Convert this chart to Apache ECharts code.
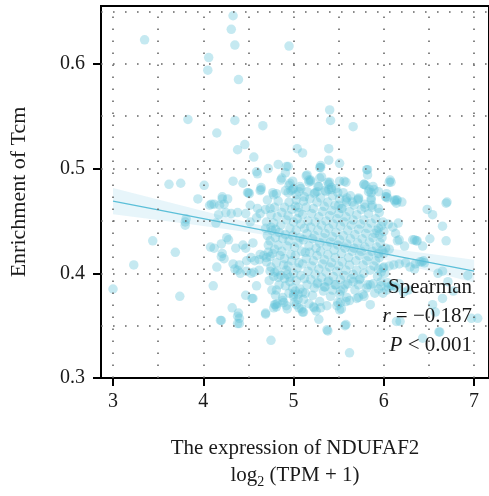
<!DOCTYPE html>
<html><head><meta charset="utf-8">
<script src="https://cdn.jsdelivr.net/npm/echarts@6/dist/echarts.min.js"></script>
<style>html,body{margin:0;padding:0;background:#fff}#c{width:489px;height:496px}</style>
</head><body><div id="c"></div>
<script>
const xTicks = [3, 4, 5, 6, 7];
const yTicks = [0.3, 0.4, 0.5, 0.6];
const gridXs = [3, 3.5, 4, 4.5, 5, 5.5, 6, 6.5, 7];
const gridYs = [0.35, 0.4, 0.45, 0.5, 0.55, 0.6, 0.65];
const fitX = [3, 3.5, 4, 4.5, 5, 5.5, 6, 6.5, 7];
const fitY = [0.469, 0.4606, 0.4523, 0.4439, 0.4355, 0.4271, 0.4188, 0.4104, 0.402];
const bandLow = [0.4565, 0.4508, 0.4452, 0.4392, 0.4324, 0.4235, 0.4131, 0.4022, 0.3911];
const bandHigh = [0.4815, 0.4704, 0.4594, 0.4486, 0.4386, 0.4307, 0.4245, 0.4186, 0.4129];
const statLines = ['Spearman', 'r = \u22120.187', 'P < 0.001'];

const pointsUpper = [
[3.35,0.623],[4.33,0.646],[4.31,0.633],[4.35,0.618],[4.95,0.617],[4.06,0.606],[4.05,0.594],[4.39,0.585],[5.40,0.556],[5.41,0.546],[3.83,0.547],[4.35,0.546],[4.66,0.541],[5.66,0.540],[4.15,0.534],[4.46,0.523],[4.38,0.518],[4.56,0.511],[5.04,0.519],[5.10,0.515],[5.39,0.519],[5.39,0.508],[5.51,0.505],[5.29,0.501],[5.30,0.503],[4.83,0.504],[4.94,0.502],[4.72,0.500],[4.59,0.497],[4.60,0.495],[4.91,0.496],[4.87,0.491],[4.86,0.489],[5.14,0.493],[5.17,0.489],[5.29,0.491],[5.38,0.487],[5.51,0.488],[5.58,0.487],[5.82,0.499],[5.82,0.494],[6.07,0.489],[6.08,0.487],[5.78,0.485],[5.80,0.484],[5.89,0.480],[5.83,0.478],[3.62,0.485],[3.75,0.486],[4.01,0.484],[4.33,0.488],[4.44,0.486],[4.49,0.477],[4.51,0.476],[4.64,0.482],[4.63,0.479],[4.77,0.477],[4.95,0.484],[5.00,0.481],[5.06,0.478],[5.08,0.481],[4.97,0.479],[5.24,0.477],[5.26,0.478],[5.36,0.478],[5.42,0.480],[5.49,0.477],[5.59,0.472],[5.72,0.472],[5.86,0.472],[6.02,0.473],[6.14,0.470],[6.70,0.468]
];
const pointsEdge = [
[3.00,0.385],[3.23,0.408],[3.44,0.431],[3.69,0.420],[3.74,0.378],[3.80,0.449],[3.81,0.452],[3.94,0.471],[4.07,0.465],[4.12,0.466],[4.18,0.465],[4.21,0.473],[4.17,0.456],[4.08,0.425],[4.15,0.406],[4.11,0.388],[4.19,0.355],[4.32,0.367],[4.38,0.359],[4.40,0.352],[4.47,0.379],[4.55,0.376],[4.75,0.336],[4.69,0.361],[4.80,0.370],[4.81,0.368],[4.92,0.369],[5.00,0.378],[5.10,0.363],[5.22,0.368],[5.28,0.356],[5.37,0.346],[5.51,0.365],[5.53,0.366],[5.58,0.351],[5.62,0.324],[5.70,0.376],[5.78,0.378],[5.85,0.370],[5.90,0.381],[5.88,0.390],[6.05,0.387],[6.18,0.354],[6.43,0.338],[6.62,0.344],[7.04,0.357],[6.71,0.392],[6.42,0.411],[6.44,0.412],[6.51,0.433],[6.34,0.432],[6.36,0.431],[6.17,0.432],[6.65,0.445],[6.69,0.431],[6.48,0.461],[6.54,0.456],[6.69,0.467],[6.12,0.469],[6.14,0.467],[6.03,0.473],[6.16,0.448],[6.06,0.423],[6.01,0.400]
];
const pointsLeft = [
[4.64,0.480],[4.50,0.477],[4.78,0.475],[4.21,0.471],[4.27,0.471],[4.09,0.466],[4.23,0.466],[4.52,0.465],[4.60,0.462],[4.69,0.461],[4.71,0.470],[4.81,0.476],[4.25,0.458],[4.31,0.457],[4.38,0.458],[4.47,0.457],[4.63,0.457],[4.59,0.453],[4.74,0.462],[4.14,0.448],[3.80,0.446],[4.52,0.449],[4.69,0.443],[4.75,0.444],[4.80,0.442],
[4.26,0.434],[4.28,0.432],[4.20,0.428],[4.12,0.424],[4.36,0.424],[4.44,0.427],[4.47,0.424],[4.55,0.429],[4.63,0.418],[4.72,0.420],
[4.20,0.416],[4.23,0.414],[4.21,0.419],[4.35,0.404],[4.38,0.403],[4.41,0.400],[4.33,0.409],[4.40,0.408],[4.48,0.412],[4.53,0.415],[4.57,0.412],[4.62,0.413],[4.67,0.417],[4.70,0.415],[4.74,0.416],[4.48,0.402],[4.53,0.400],[4.56,0.401],[4.62,0.403],[4.74,0.402],[4.79,0.401],[4.83,0.396],[4.59,0.388],[4.54,0.376],[4.81,0.384],[4.80,0.379],[4.79,0.370],[4.82,0.371],[4.78,0.367],[4.39,0.362],[4.40,0.357],[4.38,0.352],[4.20,0.355],[4.69,0.362]
];
const pointsLower = [
[4.90,0.395],[4.93,0.399],[4.96,0.392],[5.02,0.383],[5.00,0.380],[5.05,0.375],[5.10,0.382],[5.13,0.381],[4.93,0.366],[5.03,0.370],[5.06,0.367],[5.11,0.363],[5.23,0.367],[5.30,0.367],[5.38,0.345],[5.57,0.350],[5.48,0.369],[5.52,0.372],[5.58,0.373],[5.62,0.374],[5.72,0.377],[5.77,0.380],[5.34,0.387],[5.26,0.390],[5.38,0.392],[5.46,0.389],[5.52,0.383],[5.57,0.389],[5.66,0.392],[5.73,0.394],[5.81,0.386],[5.85,0.389],[4.88,0.377],[4.89,0.372]
];
const pointsTop = [
[4.92,0.502],[5.30,0.501],[5.81,0.499],[5.15,0.494],[5.19,0.489],[5.17,0.487],[4.96,0.486],[4.99,0.480],[4.94,0.477],[5.28,0.483],[5.40,0.487],[5.42,0.482],[5.39,0.480],[5.56,0.488],[5.78,0.485],[5.84,0.480],[5.86,0.477],[5.88,0.483],[5.58,0.470],[5.65,0.468],[5.72,0.471],[5.79,0.463],[5.87,0.465],[5.86,0.470],[5.03,0.470],[5.12,0.473],[5.05,0.463],[5.50,0.465],[5.53,0.462]
];
const pointsRight = [
[6.06,0.487],[6.03,0.476],[6.04,0.472],[6.12,0.470],[6.15,0.470],[6.20,0.468],[6.43,0.426],[6.32,0.432],[6.37,0.431],[6.23,0.426],[6.15,0.431],[5.97,0.445],[6.05,0.447],[6.10,0.444],[6.00,0.440],[5.95,0.437],[5.92,0.441],[6.13,0.438],[6.02,0.424],[5.98,0.422],[5.94,0.419],[5.94,0.462],[5.94,0.478],
[6.40,0.411],[6.45,0.410],[6.35,0.409],[6.34,0.404],[6.60,0.400],[6.65,0.402],[6.93,0.398],[6.77,0.383],[6.65,0.376],[6.54,0.370],[6.57,0.363],[6.27,0.384],[6.22,0.382],[6.14,0.386],[6.03,0.384],[5.99,0.381],[6.10,0.388],[6.17,0.390],[5.97,0.388],[5.94,0.385],[6.14,0.354],[6.61,0.344],[6.97,0.357],[5.94,0.404],[6.00,0.406],[6.06,0.407],[6.11,0.408],[6.17,0.409],[6.24,0.410],[6.29,0.406],[5.97,0.392],[6.04,0.391],[6.08,0.388]
];
const pointsCore = [
[4.70,0.449],[4.71,0.436],[4.72,0.427],[4.70,0.411],[4.73,0.393],
[4.75,0.456],[4.76,0.441],[4.74,0.431],[4.77,0.419],[4.75,0.406],[4.76,0.384],
[4.79,0.463],[4.78,0.448],[4.80,0.434],[4.79,0.423],[4.81,0.410],[4.78,0.397],
[4.83,0.469],[4.82,0.454],[4.84,0.439],[4.83,0.427],[4.85,0.417],[4.82,0.402],[4.84,0.389],
[4.87,0.458],[4.86,0.446],[4.88,0.433],[4.87,0.421],[4.89,0.408],[4.86,0.398],[4.88,0.374],
[4.91,0.479],[4.90,0.463],[4.92,0.451],[4.91,0.437],[4.93,0.426],[4.90,0.414],[4.92,0.403],[4.91,0.388],
[4.95,0.468],[4.94,0.455],[4.96,0.443],[4.95,0.431],[4.97,0.418],[4.94,0.407],[4.96,0.396],[4.95,0.381],
[4.99,0.488],[4.98,0.461],[5.00,0.449],[4.99,0.436],[5.01,0.425],[4.98,0.412],[5.00,0.400],[4.99,0.386],[5.01,0.372],
[5.03,0.475],[5.02,0.464],[5.04,0.452],[5.03,0.441],[5.05,0.429],[5.02,0.417],[5.04,0.405],[5.03,0.393],[5.05,0.380],
[5.07,0.483],[5.06,0.458],[5.08,0.447],[5.07,0.434],[5.09,0.421],[5.06,0.410],[5.08,0.398],[5.07,0.385],[5.09,0.366],
[5.11,0.469],[5.10,0.456],[5.12,0.443],[5.11,0.432],[5.13,0.420],[5.10,0.409],[5.12,0.395],[5.11,0.375],
[5.15,0.478],[5.14,0.463],[5.16,0.450],[5.15,0.438],[5.17,0.426],[5.14,0.414],[5.16,0.402],[5.15,0.389],[5.17,0.371],
[5.19,0.488],[5.18,0.471],[5.20,0.457],[5.19,0.444],[5.21,0.433],[5.18,0.420],[5.20,0.407],[5.19,0.394],[5.21,0.379],
[5.23,0.476],[5.22,0.462],[5.24,0.449],[5.23,0.436],[5.25,0.424],[5.22,0.412],[5.24,0.399],[5.23,0.386],[5.25,0.364],
[5.27,0.483],[5.26,0.468],[5.28,0.454],[5.27,0.441],[5.29,0.429],[5.26,0.417],[5.28,0.404],[5.27,0.391],[5.29,0.373],
[5.31,0.492],[5.30,0.472],[5.32,0.459],[5.31,0.446],[5.33,0.434],[5.30,0.421],[5.32,0.409],[5.31,0.396],[5.33,0.383],
[5.35,0.479],[5.34,0.464],[5.36,0.450],[5.35,0.438],[5.37,0.426],[5.34,0.413],[5.36,0.401],[5.35,0.387],[5.37,0.369],
[5.39,0.485],[5.38,0.468],[5.40,0.455],[5.39,0.443],[5.41,0.430],[5.38,0.418],[5.40,0.406],[5.39,0.393],[5.41,0.378],
[5.43,0.474],[5.42,0.460],[5.44,0.447],[5.43,0.435],[5.45,0.422],[5.42,0.410],[5.44,0.397],[5.43,0.384],
[5.47,0.481],[5.46,0.465],[5.48,0.452],[5.47,0.439],[5.49,0.427],[5.46,0.415],[5.48,0.402],[5.47,0.389],[5.49,0.372],
[5.51,0.471],[5.50,0.457],[5.52,0.445],[5.51,0.432],[5.53,0.419],[5.50,0.407],[5.52,0.394],[5.51,0.380],
[5.55,0.477],[5.54,0.462],[5.56,0.449],[5.55,0.436],[5.57,0.424],[5.54,0.411],[5.56,0.398],[5.55,0.385],
[5.59,0.468],[5.58,0.454],[5.60,0.441],[5.59,0.428],[5.61,0.415],[5.58,0.403],[5.60,0.390],[5.59,0.377],
[5.63,0.474],[5.62,0.459],[5.64,0.446],[5.63,0.433],[5.65,0.421],[5.62,0.408],[5.64,0.395],
[5.67,0.465],[5.66,0.451],[5.68,0.437],[5.67,0.424],[5.69,0.412],[5.66,0.399],[5.68,0.384],
[5.71,0.470],[5.70,0.456],[5.72,0.442],[5.71,0.429],[5.73,0.417],[5.70,0.403],[5.72,0.389],
[5.75,0.461],[5.74,0.447],[5.76,0.433],[5.75,0.421],[5.77,0.408],[5.74,0.395],
[5.79,0.466],[5.78,0.451],[5.80,0.438],[5.79,0.425],[5.81,0.412],[5.78,0.400],
[5.83,0.457],[5.82,0.443],[5.84,0.430],[5.83,0.416],[5.85,0.403],[5.82,0.389],
[5.87,0.463],[5.86,0.448],[5.88,0.434],[5.87,0.421],[5.89,0.407],
[5.91,0.452],[5.90,0.438],[5.92,0.425],[5.91,0.412],[5.93,0.397],
[5.95,0.458],[5.94,0.443],[5.96,0.429],[5.95,0.415],[5.97,0.401],
[5.99,0.449],[5.98,0.434],[6.00,0.419],[5.99,0.405]
];

const allPoints = [].concat(pointsUpper, pointsEdge, pointsLeft, pointsLower, pointsTop, pointsRight, pointsCore);
const FONT = '"Liberation Serif", "DejaVu Serif", serif';
const TXT = '#1a1a1a';

const chart = echarts.init(document.getElementById('c'), null, {renderer: 'canvas'});
chart.setOption({
  animation: false,
  backgroundColor: '#fff',
  grid: {left: 98, top: 6, right: -4, bottom: 118, show: true, borderColor: '#000', borderWidth: 2, backgroundColor: 'transparent'},
  xAxis: {
    type: 'value', min: 2.867, max: 7.165,
    axisLine: {show: true, lineStyle: {color: '#000', width: 2}},
    axisTick: {show: true, customValues: xTicks, length: 8, lineStyle: {color: '#000', width: 2}},
    axisLabel: {customValues: xTicks, fontFamily: FONT, fontSize: 20, color: TXT, margin: 14, formatter: v => String(v)},
    splitLine: {show: false},
    name: 'The expression of NDUFAF2\n{b|log}{s|2}{b| (TPM + 1)}',
    nameLocation: 'middle', nameGap: 57,
    nameTextStyle: {fontFamily: FONT, fontSize: 21, color: TXT, lineHeight: 27,
      rich: {b: {fontFamily: FONT, fontSize: 21, color: TXT, lineHeight: 27},
             s: {fontFamily: FONT, fontSize: 14, color: TXT, lineHeight: 14, verticalAlign: 'bottom'}}}
  },
  yAxis: {
    type: 'value', min: 0.3, max: 0.6553,
    axisLine: {show: true, lineStyle: {color: '#000', width: 2}},
    axisTick: {show: true, customValues: yTicks, length: 8, lineStyle: {color: '#000', width: 2}},
    axisLabel: {customValues: yTicks, fontFamily: FONT, fontSize: 20, color: TXT, margin: 16, formatter: v => v.toFixed(1)},
    splitLine: {show: false},
    name: 'Enrichment of Tcm', nameLocation: 'middle', nameGap: 71,
    nameTextStyle: {fontFamily: FONT, fontSize: 22, color: TXT}
  },
  series: [
    {type: 'custom', silent: true, z: 1, data: fitX.map((x, i) => [x, bandLow[i], bandHigh[i]]),
     renderItem: function (params, api) {
       if (params.dataIndex !== 0) return null;
       const upper = fitX.map((x, i) => api.coord([x, bandHigh[i]]));
       const lower = fitX.map((x, i) => api.coord([x, bandLow[i]])).reverse();
       return {type: 'polygon', shape: {points: upper.concat(lower)}, style: {fill: 'rgba(91,185,220,0.15)'}};
     }},
    {type: 'scatter', data: allPoints, symbolSize: 9.5, z: 2,
     itemStyle: {color: '#62c2da', opacity: 0.37},
     markLine: {silent: true, symbol: ['none', 'none'], label: {show: false},
       lineStyle: {color: '#666', width: 1.6, type: [1.6, 10.4], opacity: 1},
       emphasis: {disabled: true},
       data: gridXs.map(v => ({xAxis: v})).concat(gridYs.map(v => ({yAxis: v})))}},
    {type: 'line', data: fitX.map((x, i) => [x, fitY[i]]), symbol: 'none', silent: true,
     lineStyle: {color: '#5bbfd8', width: 1.3}, z: 3}
  ],
  graphic: [
    {type: 'text', x: 472, y: 287, z: 10, style: {text: statLines[0], fontFamily: FONT, fontSize: 21, fill: TXT, align: 'right', verticalAlign: 'middle'}},
    {type: 'text', x: 472, y: 316, z: 10, style: {text: '{i|' + statLines[1].slice(0, 1) + '}{n|' + statLines[1].slice(1) + '}', align: 'right', verticalAlign: 'middle',
      rich: {i: {fontFamily: FONT, fontSize: 21, fontStyle: 'italic', fill: TXT}, n: {fontFamily: FONT, fontSize: 21, fill: TXT}}}},
    {type: 'text', x: 472, y: 345, z: 10, style: {text: '{i|' + statLines[2].slice(0, 1) + '}{n|' + statLines[2].slice(1) + '}', align: 'right', verticalAlign: 'middle',
      rich: {i: {fontFamily: FONT, fontSize: 21, fontStyle: 'italic', fill: TXT}, n: {fontFamily: FONT, fontSize: 21, fill: TXT}}}}
  ]
});
</script>
</body></html>
